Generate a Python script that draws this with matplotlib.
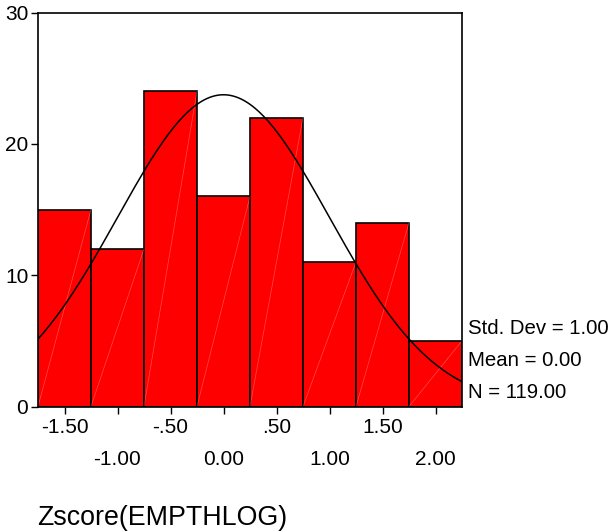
import numpy as np
import matplotlib
matplotlib.use('Agg')
import matplotlib.pyplot as plt

plt.rcParams['font.family'] = ['Liberation Sans', 'DejaVu Sans']

# histogram of standardized scores
bin_centers = [-1.50, -1.00, -0.50, 0.00, 0.50, 1.00, 1.50, 2.00]
counts      = [15, 12, 24, 16, 22, 11, 14, 5]
tick_labels = ['-1.50', '-1.00', '-.50', '0.00', '.50', '1.00', '1.50', '2.00']
stats       = ['Std. Dev = 1.00', 'Mean = 0.00', 'N = 119.00']
mean, sd, n = 0.0, 1.0, 119
width       = 0.5

fig = plt.figure(figsize=(6.13, 5.32), dpi=100)
ax  = fig.add_axes([38/613, 1 - 406.5/532, 424/613, 394/532])

ax.bar(bin_centers, counts, width=width, color='#ff0000',
       edgecolor='black', linewidth=1.2, zorder=2)

# faint diagonal seams inside the bars (corner to corner)
for c, h in zip(bin_centers, counts):
    ax.plot([c - width/2, c + width/2], [0, h], color='white',
            linewidth=0.5, alpha=0.3, zorder=2.5)

# fitted normal curve
xs = np.linspace(-1.75, 2.25, 300)
ys = n * width * np.exp(-0.5 * ((xs - mean) / sd) ** 2) / (sd * np.sqrt(2 * np.pi))
ax.plot(xs, ys, color='black', linewidth=1.1, zorder=3)

ax.set_xlim(-1.75, 2.25)
ax.set_ylim(0, 30)
ax.set_yticks([0, 10, 20, 30])
ax.set_xticks(bin_centers)
ax.set_xticklabels(tick_labels)

ax.tick_params(axis='both', direction='out', length=5, width=1, labelsize=15)
ax.tick_params(axis='y', pad=2)
for i, t in enumerate(ax.xaxis.get_major_ticks()):
    t.set_pad(3.5 if i % 2 == 0 else 26.5)

for s in ax.spines.values():
    s.set_linewidth(1.2)

for i, s in enumerate(stats):
    fig.text(468/613, 1 - (328 + 32 * i)/532, s, fontsize=14.7,
             ha='left', va='center')

fig.text(37/613, 1 - 518/532, 'Zscore(EMPTHLOG)', fontsize=19.3,
         ha='left', va='center')

fig.savefig('out.png', dpi=100)
